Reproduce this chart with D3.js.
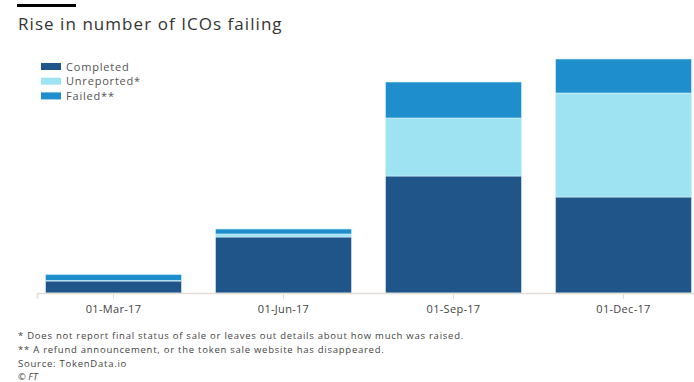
<!DOCTYPE html>
<html><head><meta charset="utf-8">
<script src="https://cdn.jsdelivr.net/npm/d3@7"></script>
<style>
body{margin:0;background:#fff;}
text{font-family:"Open Sans",sans-serif;}
</style></head>
<body><svg id="c" width="694" height="382"></svg>
<script>
const categories = ["01-Mar-17","01-Jun-17","01-Sep-17","01-Dec-17"];
const seriesNames = ["Completed","Unreported*","Failed**"];
const completed = [12, 56, 117, 96];
const unreported = [0.5, 3, 58, 104];
const failed = [6, 5, 36, 34];
const colors = ["#20558a","#9de3f2","#1f8ecd"];
const footnotes = [
  "* Does not report final status of sale or leaves out details about how much was raised.",
  "** A refund announcement, or the token sale website has disappeared.",
  "Source: TokenData.io"
];

const svg = d3.select("#c");
const rows = categories.map((c,i)=>({cat:c, Completed:completed[i], "Unreported*":unreported[i], "Failed**":failed[i]}));
const stack = d3.stack().keys(seriesNames)(rows);

const x = d3.scaleBand().domain(categories).range([37,700]).paddingInner(0.2).paddingOuter(0.05);
const y = d3.scaleLinear().domain([0,234]).range([293,59]);

// top black rule
svg.append("rect").attr("x",17).attr("y",4).attr("width",59).attr("height",3).attr("fill","#000");
svg.append("text").attr("x",18).attr("y",30).attr("font-size",17).attr("letter-spacing",1.05).attr("fill","#333").text("Rise in number of ICOs failing");

// bars
stack.forEach((s,si)=>{
  svg.append("g").selectAll("rect").data(s).join("rect")
    .attr("x",d=>x(d.data.cat)).attr("width",x.bandwidth())
    .attr("y",d=>y(d[1])).attr("height",d=>y(d[0])-y(d[1]))
    .attr("fill",colors[si]).attr("stroke","#d8f0f8").attr("stroke-width",0.6);
});

// axis
const ax = svg.append("g").attr("transform","translate(0,293)").call(d3.axisBottom(x).tickSize(6).tickPadding(6));
ax.select(".domain").attr("stroke","#e2ddd8").attr("stroke-width",1.5);
ax.selectAll(".tick line").attr("stroke","#e2ddd8").attr("stroke-width",1);
ax.selectAll(".tick text").attr("font-size",11).attr("fill","#444").attr("letter-spacing",0.3).attr("font-family","'Open Sans',sans-serif");

// legend
const lg = svg.append("g");
seriesNames.forEach((n,i)=>{
  lg.append("rect").attr("x",41).attr("y",63+i*14.7).attr("width",20).attr("height",7).attr("fill",colors[i]);
  lg.append("text").attr("x",66).attr("y",70.5+i*14.7).attr("font-size",11).attr("letter-spacing",0.8).attr("fill","#555").text(n);
});

// footnotes
footnotes.forEach((t,i)=>{
  svg.append("text").attr("x",18).attr("y",339+i*13.8).attr("font-size",9.5).attr("letter-spacing",0.75).attr("fill","#444").text(t);
});
svg.append("text").attr("x",18).attr("y",380).attr("font-size",9.5).attr("fill","#444").attr("font-style","italic").text("© FT");
</script></body></html>
